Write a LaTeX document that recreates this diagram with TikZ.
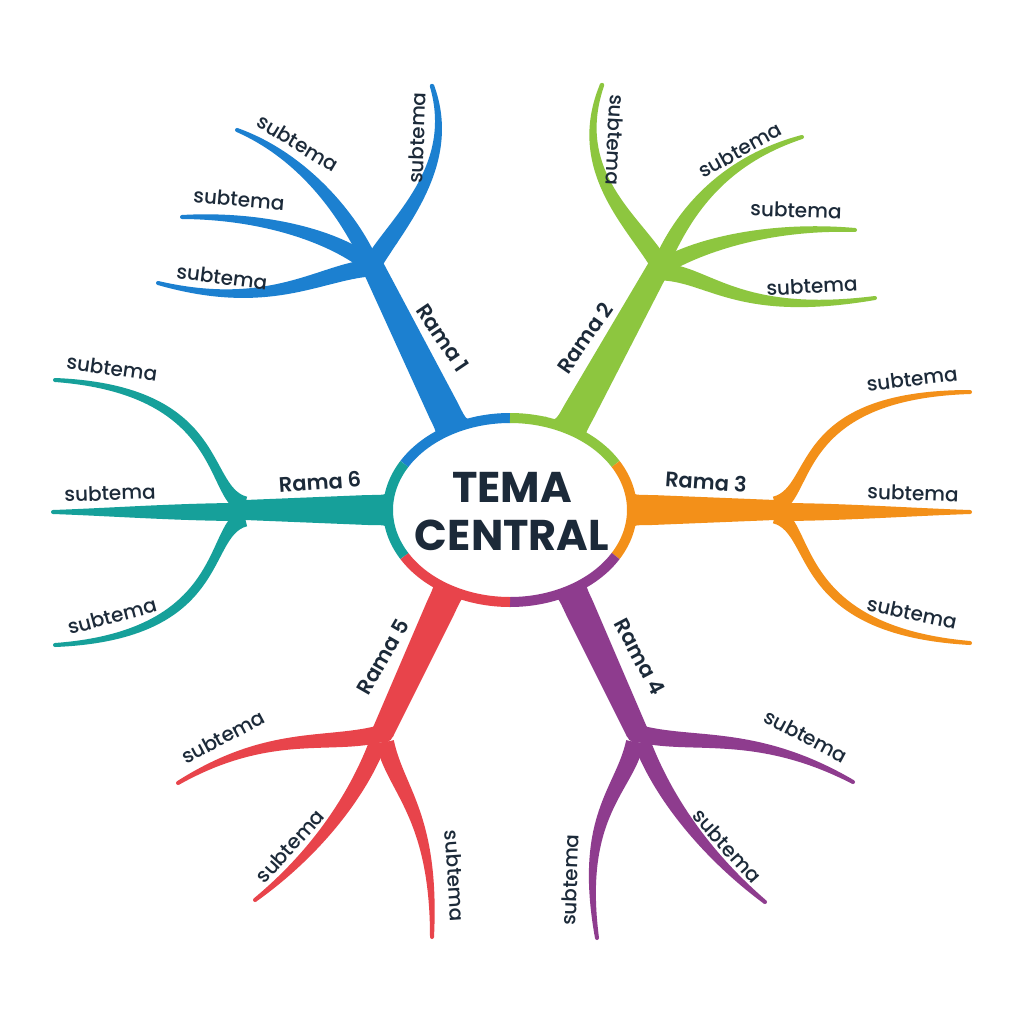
\documentclass[tikz,border=0pt]{standalone}
\usepackage{fontspec}
\setmainfont{Poppins}[UprightFont=* Medium, BoldFont=* SemiBold]
\newfontfamily\titlefont{Poppins}[UprightFont=* Bold]
\usetikzlibrary{calc}
\definecolor{cblue}{HTML}{1C80D0}
\definecolor{cgreen}{HTML}{8DC63F}
\definecolor{corange}{HTML}{F39019}
\definecolor{cpurple}{HTML}{8E3C8E}
\definecolor{cred}{HTML}{E8444B}
\definecolor{cteal}{HTML}{16A09A}
\definecolor{ctext}{HTML}{1C2A39}
% tapered cubic stroke: colour, P0, P1, P2, P3, half width start, half width end, half width near end control
\newcommand\tp[8]{%
  \coordinate (q0) at (#2); \coordinate (q1) at (#3);
  \coordinate (q2) at (#4); \coordinate (q3) at (#5);
  \coordinate (l0) at ($(q0)!#6!90:(q1)$);
  \coordinate (r0) at ($(q0)!#6!-90:(q1)$);
  \coordinate (l3) at ($(q3)!#7!-90:(q2)$);
  \coordinate (r3) at ($(q3)!#7!90:(q2)$);
  \coordinate (lm) at ($(q3)!#8!-90:(q2)$);
  \coordinate (rm) at ($(q3)!#8!90:(q2)$);
  \fill[#1] (l0) .. controls ($(q1)+(l0)-(q0)$) and ($(q2)+(lm)-(q3)$) .. (l3)
    -- (r3) .. controls ($(q2)+(rm)-(q3)$) and ($(q1)+(r0)-(q0)$) .. (r0) -- cycle;
  \fill[#1] (q3) circle (#7);
}
% trunk: colour, fork, base, half width at fork, near base, flare
\newcommand\trunk[6]{%
  \coordinate (tf) at (#2); \coordinate (tb) at (#3);
  \coordinate (tm) at ($(tb)!20pt!(tf)$);
  \fill[#1] ($(tf)!#4!90:(tb)$) -- ($(tm)!#5!-90:(tf)$)
    .. controls ($(tb)!#5!-90:(tf)$) .. ($(tb)!#6!-90:(tf)$)
    -- ($(tb)!#6!90:(tf)$)
    .. controls ($(tb)!#5!90:(tf)$) .. ($(tm)!#5!90:(tf)$)
    -- ($(tf)!#4!-90:(tb)$) -- cycle;
  \fill[#1] (tf) circle (#4);
}
\tikzset{
  sub/.style={text=ctext, font=\fontsize{20}{23}\selectfont, inner sep=0pt},
  rama/.style={text=ctext, font=\fontsize{21}{24}\selectfont\bfseries, inner sep=0pt},
  title/.style={text=ctext, font=\fontsize{43}{48}\titlefont, align=center, inner sep=0pt},
  rim/.style={line width=10pt}
}
\begin{document}
\begin{tikzpicture}[x=1pt,y=-1pt]
\useasboundingbox[fill=white] (0,0) rectangle (1024,1024);
\coordinate (C) at (510,510);
% forks and bases
\coordinate (f1) at (372,265);
\coordinate (f2) at (660,265);
\coordinate (f3) at (775,510);
\coordinate (f4) at (637,732);
\coordinate (f5) at (383,732);
\coordinate (f6) at (245,510);
\coordinate (b1) at ($(C)+(118:122pt and 92pt)$);
\coordinate (b2) at ($(C)+(61:122pt and 92pt)$);
\coordinate (b3) at ($(C)+(0:122pt and 92pt)$);
\coordinate (b4) at ($(C)+(-60:122pt and 92pt)$);
\coordinate (b5) at ($(C)+(-120:122pt and 92pt)$);
\coordinate (b6) at ($(C)+(180:122pt and 92pt)$);
% ---- Rama 1 (blue)
\trunk{cblue}{f1}{b1}{11pt}{16pt}{28pt}
\tp{cblue}{374,262}{398,222}{458,165}{432,86}{9pt}{2.2pt}{5pt}
\tp{cblue}{368,258}{345,210}{300,155}{237,130}{8pt}{2pt}{4.5pt}
\tp{cblue}{366,262}{330,235}{260,215}{182,217}{8pt}{2pt}{4.5pt}
\tp{cblue}{370,268}{320,272}{270,312}{158,283}{8.5pt}{2pt}{5pt}
% ---- Rama 2 (green)
\trunk{cgreen}{f2}{b2}{11pt}{16pt}{28pt}
\tp{cgreen}{658,262}{632,220}{570,170}{602,85}{9pt}{2.2pt}{5pt}
\tp{cgreen}{662,262}{685,210}{725,160}{802,137}{8pt}{2pt}{4.5pt}
\tp{cgreen}{664,266}{700,245}{770,225}{855,230}{8pt}{2pt}{4.5pt}
\tp{cgreen}{664,272}{710,275}{740,318}{875,298}{8.5pt}{2pt}{5pt}
% ---- Rama 3 (orange)
\trunk{corange}{f3}{b3}{10pt}{15pt}{23pt}
\tp{corange}{775,505}{815,495}{790,395}{970,392}{8.5pt}{2pt}{5pt}
\tp{corange}{778,512}{840,512}{910,512}{970,512}{9pt}{2pt}{4pt}
\tp{corange}{775,515}{815,525}{790,630}{970,643}{8.5pt}{2pt}{5pt}
% ---- Rama 4 (purple)
\trunk{cpurple}{f4}{b4}{11pt}{15pt}{22pt}
\tp{cpurple}{637,733}{690,748}{755,728}{853,782}{8.5pt}{2pt}{5pt}
\tp{cpurple}{642,742}{660,790}{700,850}{765,902}{8.5pt}{2pt}{5pt}
\tp{cpurple}{635,742}{625,790}{578,815}{597,938}{9pt}{2pt}{5pt}
% ---- Rama 5 (red)
\trunk{cred}{f5}{b5}{11pt}{15pt}{22pt}
\tp{cred}{383,733}{330,748}{270,728}{178,783}{8.5pt}{2pt}{5pt}
\tp{cred}{378,742}{360,790}{320,850}{255,900}{8.5pt}{2pt}{5pt}
\tp{cred}{385,742}{395,790}{435,815}{432,937}{9pt}{2pt}{5pt}
% ---- Rama 6 (teal)
\trunk{cteal}{f6}{b6}{10pt}{15pt}{23pt}
\tp{cteal}{245,505}{205,495}{228,390}{55,380}{8.5pt}{2pt}{5pt}
\tp{cteal}{242,512}{180,512}{110,512}{53,512}{9pt}{2pt}{4pt}
\tp{cteal}{245,518}{205,528}{230,635}{55,645}{8.5pt}{2pt}{5pt}
% ---- central ellipse
\fill[white] (C) ellipse [x radius=122pt, y radius=92pt];
\draw[rim, cblue]   ($(C)+(150:122pt and 92pt)$) arc[start angle=150, end angle=90, x radius=122pt, y radius=92pt];
\draw[rim, cgreen]  ($(C)+(90:122pt and 92pt)$) arc[start angle=90, end angle=30, x radius=122pt, y radius=92pt];
\draw[rim, corange] ($(C)+(30:122pt and 92pt)$) arc[start angle=30, end angle=-30, x radius=122pt, y radius=92pt];
\draw[rim, cpurple] ($(C)+(-30:122pt and 92pt)$) arc[start angle=-30, end angle=-90, x radius=122pt, y radius=92pt];
\draw[rim, cred]    ($(C)+(-90:122pt and 92pt)$) arc[start angle=-90, end angle=-150, x radius=122pt, y radius=92pt];
\draw[rim, cteal]   ($(C)+(-150:122pt and 92pt)$) arc[start angle=-150, end angle=-210, x radius=122pt, y radius=92pt];
\node[title] (tema) at (512,512) {TEMA\\CENTRAL};
% ---- labels
\node[rama, rotate=-56] (r1) at (443,338) {Rama 1};
\node[rama, rotate=55] (r2) at (585,338) {Rama 2};
\node[rama, rotate=-4] (r3) at (706,482) {Rama 3};
\node[rama, rotate=-62] (r4) at (640,657) {Rama 4};
\node[rama, rotate=60] (r5) at (383,657) {Rama 5};
\node[rama, rotate=4] (r6) at (320,482) {Rama 6};
\node[sub, rotate=88] (s1a) at (417,138) {subtema};
\node[sub, rotate=-31] (s1b) at (298,143) {subtema};
\node[sub, rotate=-5] (s1c) at (239,199) {subtema};
\node[sub, rotate=-7] (s1d) at (222,277) {subtema};
\node[sub, rotate=-93] (s2a) at (615,140) {subtema};
\node[sub, rotate=29] (s2b) at (740,150) {subtema};
\node[sub, rotate=-2] (s2c) at (796,210) {subtema};
\node[sub, rotate=3] (s2d) at (812,286) {subtema};
\node[sub, rotate=7] (s3a) at (912,379) {subtema};
\node[sub, rotate=-2] (s3b) at (913,493) {subtema};
\node[sub, rotate=-12] (s3c) at (912,613) {subtema};
\node[sub, rotate=-28] (s4a) at (806,736) {subtema};
\node[sub, rotate=-48] (s4b) at (727,846) {subtema};
\node[sub, rotate=88] (s4c) at (570,880) {subtema};
\node[sub, rotate=28] (s5a) at (223,737) {subtema};
\node[sub, rotate=48] (s5b) at (290,846) {subtema};
\node[sub, rotate=-86] (s5c) at (455,876) {subtema};
\node[sub, rotate=-8] (s6a) at (112,368) {subtema};
\node[sub, rotate=2] (s6b) at (110,493) {subtema};
\node[sub, rotate=15] (s6c) at (112,616) {subtema};
\end{tikzpicture}
\end{document}
